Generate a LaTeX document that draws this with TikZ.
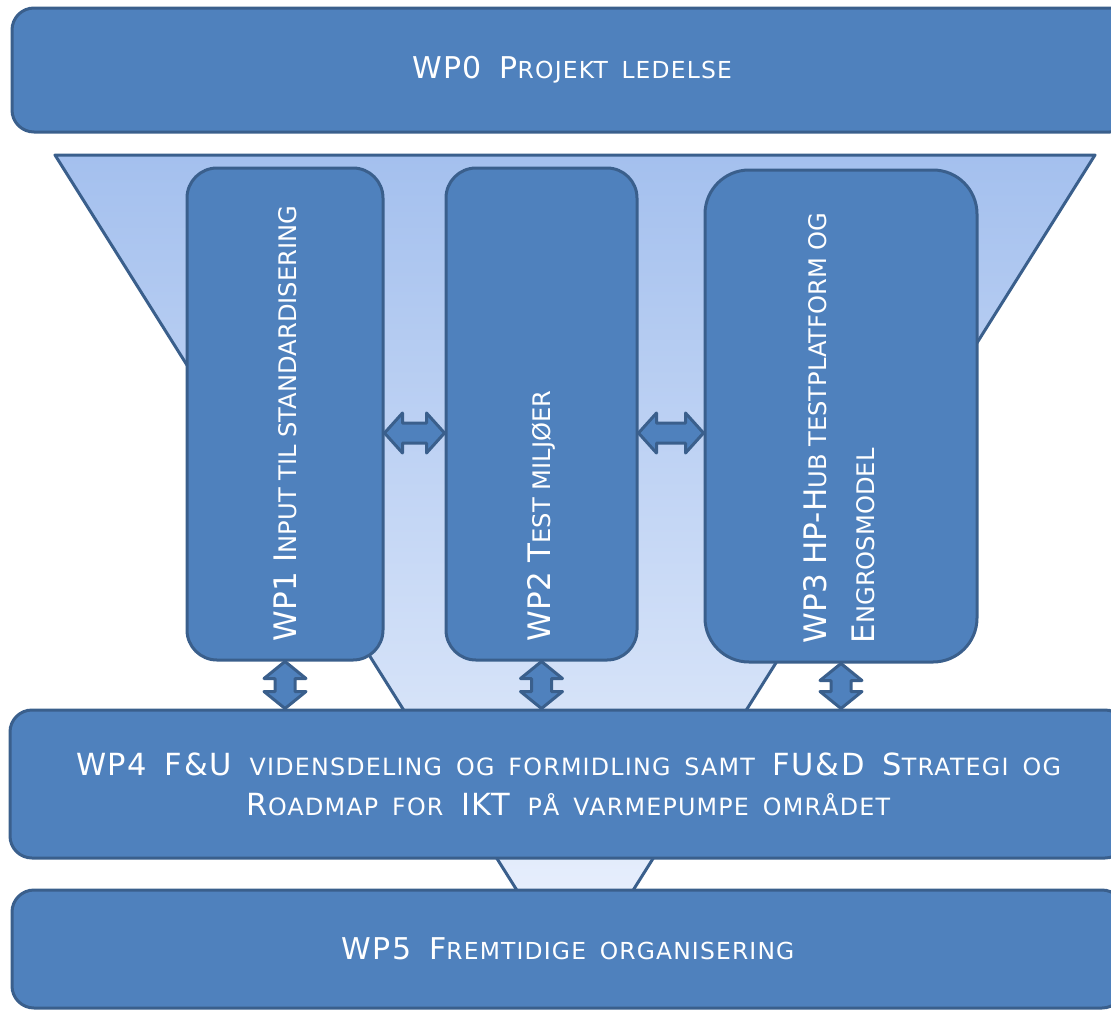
\documentclass[tikz,border=0pt]{standalone}
\usepackage{fontspec}
\setmainfont{DejaVu Sans}
\newfontfamily\widefont[LetterSpace=5,WordSpace=1.6]{DejaVu Sans}
\usetikzlibrary{calc}
\definecolor{wpblue}{RGB}{79,129,189}
\definecolor{wpedge}{RGB}{58,95,140}
\definecolor{funneltop}{RGB}{164,192,238}
\definecolor{funnelbot}{RGB}{230,238,252}
\makeatletter
\newcommand\lc[1]{{\@tempdima=\f@size pt\@tempdima=0.78\@tempdima
  \fontsize{\strip@pt\@tempdima}{\strip@pt\@tempdima}\selectfont\MakeUppercase{#1}}}
\makeatother
\tikzset{
  wpbox/.style={draw=wpedge, fill=wpblue, line width=3pt, rounded corners=22pt,
    text=white, inner sep=0pt, align=center},
  wpcol/.style={wpbox, minimum height=492pt},
  vtext/.style={rotate=90, anchor=west, text=white, inner sep=0pt, align=left,
    font=\fontsize{31}{48}\selectfont},
  blockarr/.style={draw=wpedge, fill=wpblue, line width=3pt, line join=round}
}
% double block arrows between two named points
\newcommand\harrow[2]{\draw[blockarr] let \p1=(#1), \p2=(#2) in
  (\x1,\y1) -- (\x1+18,\y1+20) -- (\x1+18,\y1+10) -- (\x2-18,\y1+10) -- (\x2-18,\y1+20)
  -- (\x2,\y1) -- (\x2-18,\y1-20) -- (\x2-18,\y1-10) -- (\x1+18,\y1-10) -- (\x1+18,\y1-20) -- cycle;}
\newcommand\varrow[2]{\draw[blockarr] let \p1=(#1), \p2=(#2) in
  (\x1,\y1) -- (\x1+21,\y1-17) -- (\x1+10,\y1-17) -- (\x1+10,\y2+17) -- (\x1+21,\y2+17)
  -- (\x1,\y2) -- (\x1-21,\y2+17) -- (\x1-10,\y2+17) -- (\x1-10,\y1-17) -- (\x1-21,\y1-17) -- cycle;}

\begin{document}
\begin{tikzpicture}[x=1pt, y=-1pt]
  \useasboundingbox (0,0) rectangle (1111,1010);
  %%%%% START %%%%%
  % funnel
  \shade[top color=funneltop, bottom color=funnelbot] (55,155) -- (1095,155) -- (632,892) -- (518,892) -- cycle;
  \draw[wpedge, line width=3pt, line join=round] (55,155) -- (1095,155) -- (632,892) -- (518,892) -- cycle;

  \node[wpbox, minimum width=1120, minimum height=124, font=\widefont\fontsize{30}{34}\selectfont]
    (wp0) at (572,70) {WP0 P\lc{rojekt ledelse}};

  \node[wpcol, minimum width=196, rounded corners=30pt] (wp1) at (285,414) {};
  \node[wpcol, minimum width=191, rounded corners=30pt] (wp2) at (541.5,414) {};
  \node[wpcol, minimum width=272, rounded corners=44pt] (wp3) at (841,416) {};

  \node[vtext] (wp1txt) at ($(wp1.south)+(0,-20)$) {WP1 I\lc{nput til standardisering}};
  \node[vtext] (wp2txt) at ($(wp2.south)+(0,-20)$) {WP2 T\lc{est miljøer}};
  \node[vtext] (wp3txt) at ($(wp3.south)+(-2,-20)$) {WP3 HP-H\lc{ub testplatform og}\\ E\lc{ngrosmodel}};

  \node[wpbox, minimum width=1117, minimum height=148, font=\widefont\fontsize{30.5}{40}\selectfont]
    (wp4) at (568.5,784) {WP4 F\&U \lc{vidensdeling og formidling samt} FU\&D S\lc{trategi og}\\
    R\lc{oadmap for} IKT \lc{på varmepumpe området}};

  \node[wpbox, minimum width=1112, minimum height=118, font=\widefont\fontsize{30}{34}\selectfont]
    (wp5) at (568,949) {WP5 F\lc{remtidige organisering}};

  % arrows
  \harrow{wp1.east |- 0,433}{wp2.west |- 0,433}
  \harrow{wp2.east |- 0,433}{wp3.west |- 0,433}
  \varrow{wp1.south}{wp1.south |- wp4.north}
  \varrow{wp2.south}{wp2.south |- wp4.north}
  \varrow{wp3.south}{wp3.south |- wp4.north}
  %%%%% END %%%%%
\end{tikzpicture}
\end{document}
